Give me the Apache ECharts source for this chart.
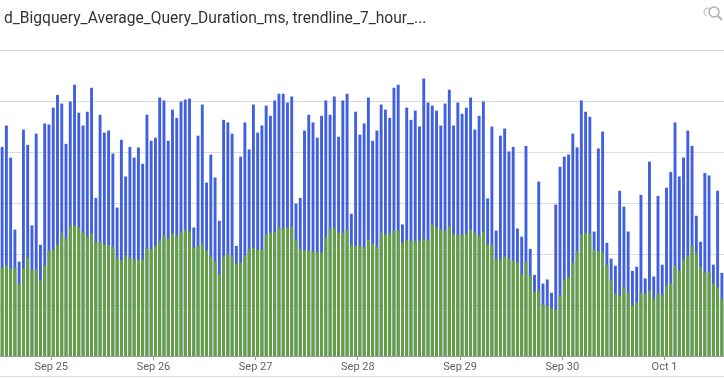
<!DOCTYPE html>
<html>
<head>
<meta charset="utf-8">
<script src="https://cdn.jsdelivr.net/npm/echarts@6/dist/echarts.min.js"></script>
<style>
html,body{margin:0;padding:0;background:#fff;}
#chart{width:724px;height:379px;}
</style>
</head>
<body>
<div id="chart"></div>
<script>
// Day labels shown on the axis (ticks at midnight)
const dayLabels = ['Sep 24', 'Sep 25', 'Sep 26', 'Sep 27', 'Sep 28', 'Sep 29', 'Sep 30', 'Oct 1'];
const firstHour = 12; // first visible bar: Sep 24 12:00
const barCount = 170;

// Average query duration (hourly)
const avgDuration = [
  4100,4520,3890,2480,1850,4440,4140,2560,4360,2180,
  4560,4540,4870,5120,4950,4160,4990,5320,4770,4520,
  4790,5260,3100,4730,4380,4420,3970,2910,4240,3520,
  4100,3890,4090,3770,4730,4220,4280,5070,5010,4220,
  4830,4670,4990,5030,5050,2520,4320,4930,3400,3950,
  3500,2650,4630,4580,4360,2160,3910,4580,4050,4930,
  4380,4520,4910,4710,5010,5140,5140,4970,5090,2990,
  3100,4420,4730,4580,4280,4710,5010,4730,5090,4300,
  5010,5140,2790,4790,4340,4560,5070,4220,4420,4930,
  4830,4670,5260,5320,2580,4870,4630,4810,4500,5440,
  4970,4910,4810,4520,4950,5220,4520,4970,4750,4870,
  5070,4440,4710,4990,3090,4500,2460,4320,4460,4010,
  4100,2500,2340,4120,2100,1590,3420,1420,1500,1240,
  2970,3710,3910,3950,4360,4090,5010,4790,4690,2440,
  4070,4400,2220,1910,1770,3240,2930,2440,1670,1750,
  3160,1520,3810,1560,3140,1790,3300,3610,4580,3520,
  3890,4420,4120,2750,2240,3590,3540,1790,3240,1630
];

// 7-hour trendline
const trendline7h = [
  1730,1780,1710,1730,1420,1710,1930,1690,1690,1480,
  1770,2070,2090,2180,2410,2300,2560,2560,2520,2420,
  2340,2400,2240,2250,2180,2180,2140,1930,1880,1970,
  1930,1890,1890,1890,2120,2090,2160,2260,2360,2300,
  2400,2360,2420,2480,2440,2120,2160,2200,2070,1970,
  1850,1610,1950,2010,1950,1810,1830,1970,2100,2120,
  2090,2090,2380,2420,2420,2520,2500,2520,2540,2280,
  2090,2070,2070,2050,2030,2030,2320,2500,2520,2420,
  2420,2480,2180,2160,2160,2140,2280,2200,2140,2420,
  2380,2400,2460,2460,2220,2280,2260,2260,2260,2300,
  2280,2580,2520,2480,2460,2540,2380,2380,2380,2400,
  2480,2420,2360,2440,2180,2180,1910,1890,1950,1910,
  1870,1830,1610,1850,1580,1260,1280,1010,990,930,
  910,1180,1500,1540,1830,2050,2380,2420,2400,2090,
  2050,2030,1790,1480,1220,1180,1360,1240,990,1050,
  1240,1220,1280,1120,1220,1200,1380,1420,1770,1670,
  1890,1970,2160,2010,1750,1630,1650,1420,1340,1120
];

// Build hourly category labels from the day labels
const categories = [];
for (let i = 0; i < barCount; i++) {
  const h = firstHour + i;
  const d = Math.floor(h / 24);
  categories.push(dayLabels[d] + ' ' + String(h % 24).padStart(2, '0') + ':00');
}
const isMidnight = (idx) => (firstHour + idx) % 24 === 0;

const chart = echarts.init(document.getElementById('chart'), null, {renderer: 'canvas'});
chart.setOption({
  animation: false,
  backgroundColor: '#fff',
  title: {
    text: 'd_Bigquery_Average_Query_Duration_ms, trendline_7_hour_...',
    left: -1,
    top: 6,
    textStyle: {fontFamily: 'Roboto', fontSize: 15.6, fontWeight: 'normal', color: '#333'}
  },
  grid: {left: 0, right: 0, top: 50, bottom: 23, containLabel: false},
  xAxis: {
    type: 'category',
    data: categories,
    boundaryGap: true,
    axisLine: {lineStyle: {color: '#999', width: 1}},
    axisTick: {show: true, length: 4, lineStyle: {color: '#999'}, interval: (idx) => isMidnight(idx)},
    axisLabel: {
      interval: (idx) => isMidnight(idx),
      margin: 6,
      formatter: (val) => '{a|' + val.split(' ').slice(0, 2).join(' ') + '}',
      rich: {a: {fontFamily: 'Roboto', fontSize: 11, color: '#5f6368', padding: [0, 4, 0, 0]}}
    },
    splitLine: {show: false}
  },
  yAxis: {
    type: 'value',
    min: 0,
    max: 6000,
    interval: 1000,
    axisLabel: {show: false},
    axisLine: {show: false},
    axisTick: {show: false},
    splitLine: {lineStyle: {color: '#dcdcdc', width: 1}}
  },
  series: [
    {
      name: 'Bigquery_Average_Query_Duration_ms',
      type: 'bar',
      data: avgDuration,
      barWidth: '68%',
      barGap: '-100%',
      itemStyle: {color: '#4060df'}
    },
    {
      name: 'trendline_7_hour',
      type: 'bar',
      data: trendline7h,
      barWidth: '68%',
      barGap: '-100%',
      itemStyle: {color: '#65a13a'}
    }
  ],
  graphic: [
    {type: 'line', shape: {x1: 0, y1: 376.5, x2: 724, y2: 376.5}, style: {stroke: '#dddddd', lineWidth: 1}},
    {type: 'circle', shape: {cx: 714, cy: 12, r: 5}, style: {fill: 'none', stroke: '#b0b0b0', lineWidth: 1.5}},
    {type: 'line', shape: {x1: 717.5, y1: 15.5, x2: 722, y2: 20}, style: {stroke: '#b0b0b0', lineWidth: 2}},
    {type: 'arc', shape: {cx: 708, cy: 12, r: 4, startAngle: Math.PI * 0.6, endAngle: Math.PI * 1.6}, style: {fill: 'none', stroke: '#c0c0c0', lineWidth: 1.2}}
  ]
});
</script>
</body>
</html>
